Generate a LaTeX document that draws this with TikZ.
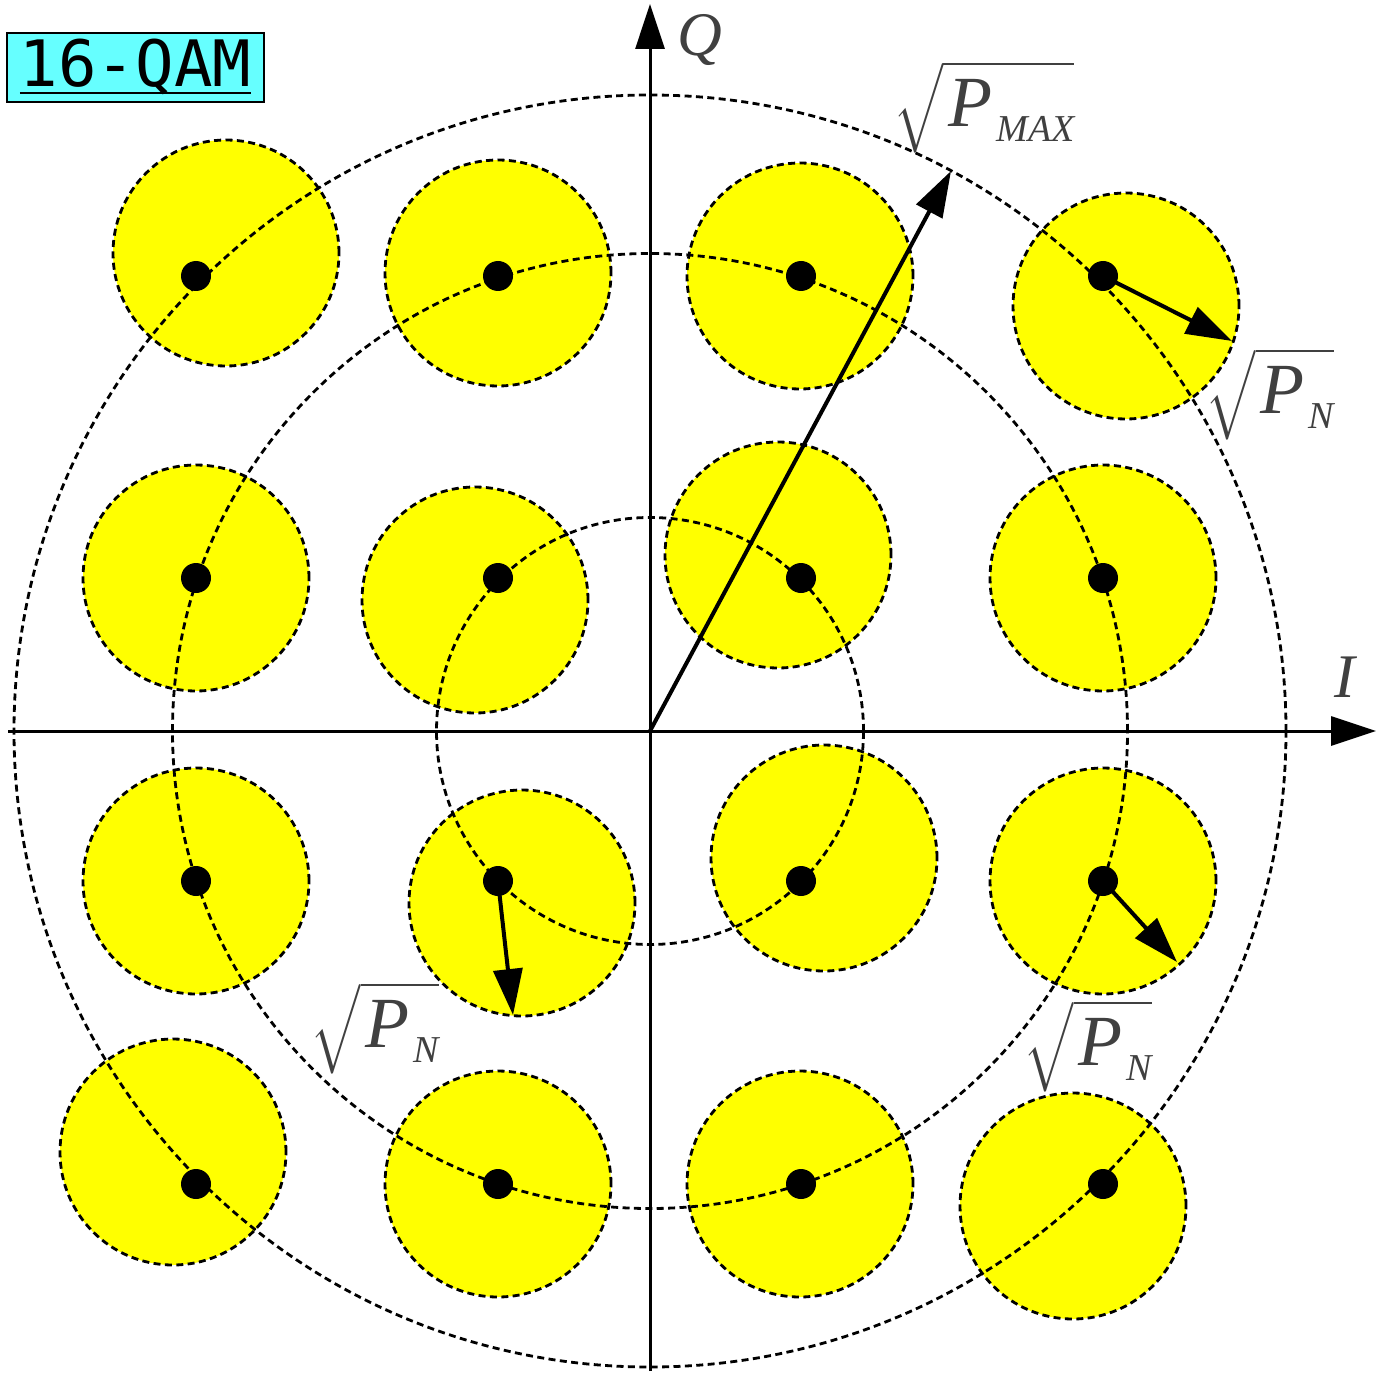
\documentclass[tikz,border=0pt]{standalone}
\usepackage{exscale}
\usepackage{fontspec}
\setmainfont{Liberation Serif}
\newfontfamily\qamfont{DejaVu Sans Mono}
\usetikzlibrary{arrows.meta}
\definecolor{noisefill}{RGB}{255,255,0}
\definecolor{tagfill}{RGB}{102,255,255}
\definecolor{labelgray}{RGB}{64,64,64}
\newcommand{\rootlabel}[1]{$\sqrt{\mbox{\fontsize{36}{36}\selectfont\kern2.5pt\itshape P\kern2pt\raisebox{-7.5pt}{\fontsize{19}{19}\selectfont #1}}}$}
\begin{document}
\begin{tikzpicture}[x=0.5pt,y=-0.5pt,
  noise/.style={circle,draw,line width=1.4pt,dash pattern=on 3.5pt off 2.2pt,fill=noisefill,minimum size=113pt,inner sep=0pt},
  symbol/.style={circle,fill=black,minimum size=15pt,inner sep=0pt},
  ring/.style={line width=1.4pt,dash pattern=on 3.5pt off 2.2pt},
  axis/.style={line width=1.5pt,-{Triangle[length=22.5pt,width=14.5pt]}},
  vec/.style={line width=2pt,-{Triangle[length=23pt,width=14.5pt]}},
  lab/.style={text=labelgray,inner sep=0pt}]
\useasboundingbox (0,0) rectangle (1379,1374);
% noise circles
\node[noise] (n11) at (226,253) {};
\node[noise] (n12) at (498,273) {};
\node[noise] (n13) at (800,276) {};
\node[noise] (n14) at (1126,306) {};
\node[noise] (n21) at (196,578) {};
\node[noise] (n22) at (475,600) {};
\node[noise] (n23) at (778,555) {};
\node[noise] (n24) at (1103,578) {};
\node[noise] (n31) at (196,881) {};
\node[noise] (n32) at (522,903) {};
\node[noise] (n33) at (824,858) {};
\node[noise] (n34) at (1103,881) {};
\node[noise] (n41) at (173,1152) {};
\node[noise] (n42) at (498,1184) {};
\node[noise] (n43) at (800,1184) {};
\node[noise] (n44) at (1073,1206) {};
% rings
\coordinate (o) at (650,731);
\draw[ring] (o) circle[radius=318pt];
\draw[ring] (o) circle[radius=238.75pt];
\draw[ring] (o) circle[radius=106.75pt];
% axes
\coordinate (xl) at (8,731);
\coordinate (xr) at (1376,731);
\coordinate (yb) at (650,1371);
\coordinate (yt) at (650,4);
\draw[axis] (xl) -- (xr);
\draw[axis] (yb) -- (yt);
% symbols
\node[symbol] (p11) at (196,276) {};
\node[symbol] (p12) at (498,276) {};
\node[symbol] (p13) at (801,276) {};
\node[symbol] (p14) at (1103,276) {};
\node[symbol] (p21) at (196,578) {};
\node[symbol] (p22) at (498,578) {};
\node[symbol] (p23) at (801,578) {};
\node[symbol] (p24) at (1103,578) {};
\node[symbol] (p31) at (196,881) {};
\node[symbol] (p32) at (498,881) {};
\node[symbol] (p33) at (801,881) {};
\node[symbol] (p34) at (1103,881) {};
\node[symbol] (p41) at (196,1184) {};
\node[symbol] (p42) at (498,1184) {};
\node[symbol] (p43) at (801,1184) {};
\node[symbol] (p44) at (1103,1184) {};
% vectors
\coordinate (tmax) at (951,171);
\coordinate (t14) at (1232,341);
\coordinate (t32) at (513,1015);
\coordinate (t34) at (1177,962);
\draw[vec] (o) -- (tmax);
\draw[vec] (p14.center) -- (t14);
\draw[vec] (p32.center) -- (t32);
\draw[vec] (p34.center) -- (t34);
% labels
\node[lab] (lq) at (700,40) {\fontsize{31}{31}\selectfont\itshape Q};
\node[lab] (li) at (1345,677) {\fontsize{31}{31}\selectfont\itshape I};
\node[lab,font=\fontsize{36}{40}\selectfont] (lmax) at (984,107) {\rootlabel{MAX}};
\node[lab,font=\fontsize{36}{40}\selectfont] (ln1) at (1270,394) {\rootlabel{N}};
\node[lab,font=\fontsize{36}{40}\selectfont] (ln2) at (375,1028) {\rootlabel{N}};
\node[lab,font=\fontsize{36}{40}\selectfont] (ln3) at (1088,1046) {\rootlabel{N}};
% tag
\node[draw,line width=1.2pt,fill=tagfill,minimum width=128.5pt,minimum height=34.5pt,inner sep=0pt] (tag) at (135.5,67.5) {\fontsize{32}{32}\selectfont\qamfont\underbar{16-QAM}};
\end{tikzpicture}
\end{document}
